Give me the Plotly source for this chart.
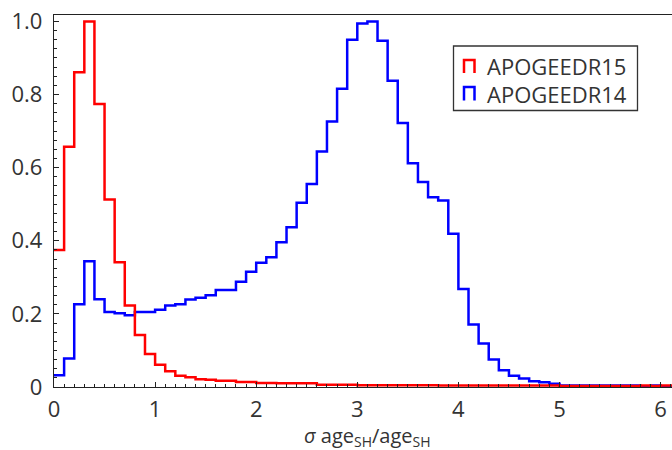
import plotly.graph_objects as go

# ---------------- data ----------------
bin_width = 0.1
bin_edges = [round(i * bin_width, 2) for i in range(63)]  # 0.0 .. 6.2

red_label = "APOGEEDR15"
blue_label = "APOGEEDR14"

red_values = [
    0.375, 0.657, 0.861, 1.000, 0.774, 0.513, 0.341, 0.223, 0.142, 0.090,
    0.061, 0.043, 0.031, 0.027, 0.021, 0.020, 0.017, 0.017, 0.014, 0.014,
    0.011, 0.011, 0.010, 0.010, 0.010, 0.010, 0.006, 0.006, 0.006, 0.006,
    0.005, 0.005, 0.005, 0.005, 0.005, 0.005, 0.005, 0.005, 0.004, 0.004,
    0.004, 0.004, 0.004, 0.004, 0.004, 0.004, 0.004, 0.004, 0.004, 0.004,
    0.003, 0.003, 0.003, 0.003, 0.003, 0.003, 0.003, 0.003, 0.004, 0.003,
    0.004, 0.004,
]

blue_values = [
    0.032, 0.078, 0.226, 0.344, 0.240, 0.205, 0.202, 0.196, 0.205, 0.205,
    0.211, 0.223, 0.226, 0.239, 0.244, 0.251, 0.265, 0.265, 0.288, 0.315,
    0.340, 0.355, 0.396, 0.437, 0.504, 0.555, 0.644, 0.726, 0.816, 0.950,
    0.994, 1.000, 0.947, 0.838, 0.722, 0.612, 0.561, 0.519, 0.510, 0.419,
    0.268, 0.171, 0.119, 0.075, 0.046, 0.031, 0.023, 0.016, 0.013, 0.009,
    0.004, 0.004, 0.004, 0.004, 0.004, 0.004, 0.004, 0.004, 0.002, 0.004,
    0.002, 0.002,
]

x_tickvals = [0, 1, 2, 3, 4, 5, 6]
x_ticktext = ["0", "1", "2", "3", "4", "5", "6"]
y_tickvals = [0, 0.2, 0.4, 0.6, 0.8, 1.0]
y_ticktext = ["0", "0.2", "0.4", "0.6", "0.8", "1.0"]

x_title = "<i>σ</i> age<sub>SH</sub>/age<sub>SH</sub>"

# ---------------- layout constants ----------------
W_FIG, H_FIG = 672, 450
L, T, R, B = 54, 15, 0, 63
PW = W_FIG - L - R
PH = H_FIG - T - B
FONT = "Open Sans"
TEXT_COLOR = "#333333"


def px(x):
    return (x - L) / PW


def py(y):
    return (T + PH - y) / PH


fig = go.Figure()


def step_trace(values, color, name):
    ys = list(values) + [values[-1]]
    return go.Scatter(
        x=bin_edges, y=ys, mode="lines", name=name,
        line=dict(color=color, width=2.5, shape="hv"),
        showlegend=False, hoverinfo="skip",
    )


fig.add_trace(step_trace(blue_values, "#0000ff", blue_label))
fig.add_trace(step_trace(red_values, "#ff0000", red_label))

axis_common = dict(
    showgrid=False, zeroline=False,
    showline=True, linecolor="#222222", linewidth=1.3, mirror=True,
    ticks="inside", ticklen=5, tickcolor="#222222", tickwidth=1.2,
    tickfont=dict(family=FONT, size=22, color=TEXT_COLOR),
)

fig.update_xaxes(
    range=[0, (W_FIG - L) / 101.1],
    tickvals=x_tickvals, ticktext=x_ticktext,
    minor=dict(dtick=0.1, ticks="inside", ticklen=3, tickcolor="#222222", tickwidth=1),
    ticklabelstandoff=2,
    **axis_common,
)
fig.update_yaxes(
    range=[0, 1.0175],
    tickvals=y_tickvals, ticktext=y_ticktext,
    minor=dict(dtick=0.025, ticks="inside", ticklen=3, tickcolor="#222222", tickwidth=1),
    ticklabelstandoff=6,
    **axis_common,
)

# legend drawn by hand (histogram-style symbols)
shapes = [
    dict(type="rect", xref="paper", yref="paper",
         x0=px(453.5), x1=px(637.5), y0=py(110.5), y1=py(46),
         line=dict(color="#333333", width=1.3), fillcolor="white", layer="above"),
]
for (y_top, y_bot, color) in [(60, 73, "#ff0000"), (87, 100.5, "#0000ff")]:
    x0, x1 = px(464), px(474.5)
    shapes.append(dict(
        type="path", xref="paper", yref="paper",
        path=f"M {x0},{py(y_bot)} L {x0},{py(y_top)} L {x1},{py(y_top)} L {x1},{py(y_bot)}",
        line=dict(color=color, width=2.5), layer="above",
    ))

annotations = [
    dict(text=red_label, xref="paper", yref="paper", x=px(485), y=py(66),
         xanchor="left", yanchor="middle", showarrow=False,
         font=dict(family=FONT, size=22, color=TEXT_COLOR)),
    dict(text=blue_label, xref="paper", yref="paper", x=px(485), y=py(93.5),
         xanchor="left", yanchor="middle", showarrow=False,
         font=dict(family=FONT, size=22, color=TEXT_COLOR)),
    dict(text=x_title, xref="paper", yref="paper", x=px(367), y=py(436),
         xanchor="center", yanchor="middle", showarrow=False,
         font=dict(family=FONT, size=20, color=TEXT_COLOR)),
]

fig.update_layout(
    width=W_FIG, height=H_FIG,
    margin=dict(l=L, r=R, t=T, b=B, pad=0),
    paper_bgcolor="white", plot_bgcolor="white",
    shapes=shapes, annotations=annotations,
    showlegend=False,
)

fig.write_html("out.html")
